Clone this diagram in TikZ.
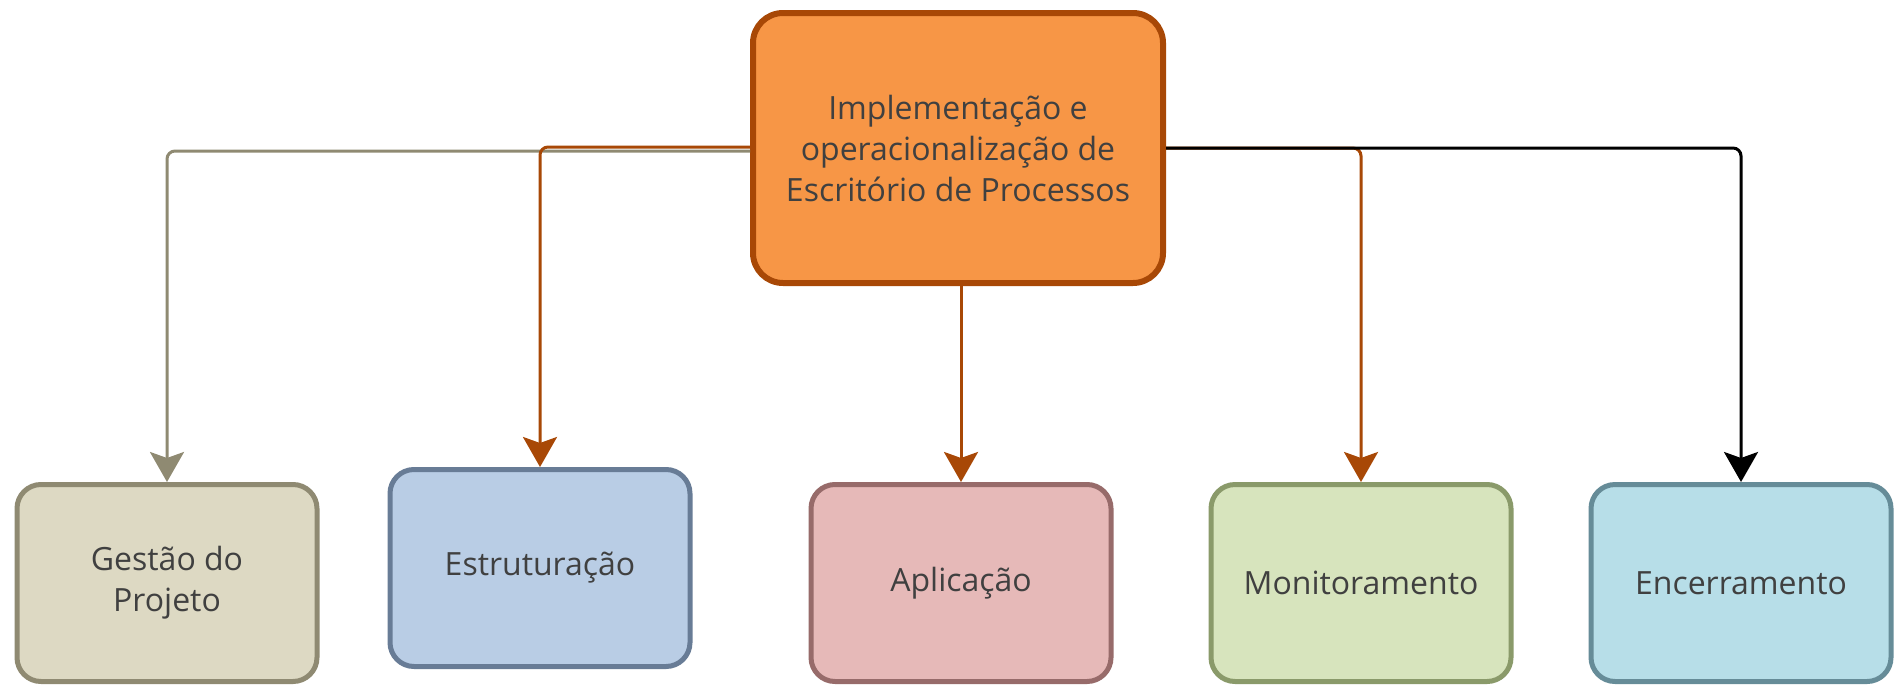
\documentclass[tikz,border=0pt]{standalone}
\usepackage{fontspec}
\setmainfont{Open Sans}
\usetikzlibrary{arrows.meta}
\definecolor{topfill}{HTML}{F79646}
\definecolor{topline}{HTML}{A84806}
\definecolor{gestfill}{HTML}{DDD9C3}
\definecolor{gestline}{HTML}{8F8A72}
\definecolor{estrfill}{HTML}{B9CDE5}
\definecolor{estrline}{HTML}{687C96}
\definecolor{aplfill}{HTML}{E6B9B8}
\definecolor{aplline}{HTML}{976B6A}
\definecolor{monfill}{HTML}{D7E4BD}
\definecolor{monline}{HTML}{8A9A6A}
\definecolor{encfill}{HTML}{B7DEE8}
\definecolor{encline}{HTML}{668C98}
\definecolor{txtgray}{HTML}{404040}
\begin{document}
\begin{tikzpicture}[x=0.5pt,y=-0.5pt,
    box/.style={draw,rounded corners=12pt,line width=2.5pt,minimum width=150pt,minimum height=98.5pt,
        align=center,text=txtgray,font=\fontsize{16}{20.5}\selectfont},
    conn/.style={line width=1.5pt,rounded corners=4pt,-{Stealth[length=15pt,width=17pt,inset=3pt]}}]
    \useasboundingbox (0,0) rectangle (1898,685);
    % top box
    \node [box,fill=topfill,draw=topline,line width=3pt,minimum width=205pt,minimum height=135pt,rounded corners=15pt]
        (top) at (958,148) {Implementação e\\operacionalização de\\Escritório de Processos};
    % phases
    \node [box,fill=gestfill,draw=gestline] (gest) at (167,583) {Gestão do\\Projeto};
    \node [box,fill=estrfill,draw=estrline] (estr) at (540,568) {Estruturação};
    \node [box,fill=aplfill,draw=aplline] (apl) at (961,583) {Aplicação};
    \node [box,fill=monfill,draw=monline] (mon) at (1361,583) {Monitoramento};
    \node [box,fill=encfill,draw=encline] (enc) at (1741,583) {Encerramento};
    % connectors
    \draw [conn,gestline] ([yshift=-1.5pt]top.west) -| (gest.north);
    \draw [conn,topline] ([yshift=0.5pt]top.west) -| (estr.north);
    \draw [conn,topline] (top.south -| apl.north) -- (apl.north);
    \draw [conn,topline] (top.east) -| (mon.north);
    \draw [conn,black] (top.east) -| (enc.north);
\end{tikzpicture}
\end{document}
